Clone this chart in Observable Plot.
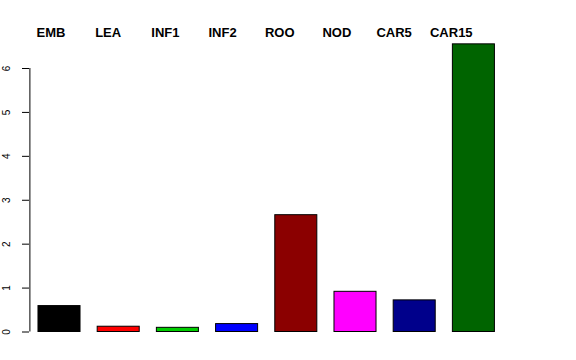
<!DOCTYPE html>
<html>
<head>
<meta charset="utf-8">
<script src="https://cdn.jsdelivr.net/npm/d3@7"></script>
<script src="https://cdn.jsdelivr.net/npm/@observablehq/plot@0.6"></script>
<style>
  html, body { margin: 0; padding: 0; background: #fff; }
  #chart svg { display: block; }
</style>
</head>
<body>
<div id="chart"></div>
<script>
const categories = ["EMB", "LEA", "INF1", "INF2", "ROO", "NOD", "CAR5", "CAR15"];
const values = [0.59, 0.12, 0.095, 0.18, 2.66, 0.915, 0.72, 6.55];
const colors = ["black", "red", "#00CD00", "blue", "#8B0000", "magenta", "#00008B", "#006400"];
const yTicks = [0, 1, 2, 3, 4, 5, 6];

const data = categories.map((c, i) => ({category: c, value: values[i], color: colors[i], i}));
const font = "'Liberation Sans', Arial, Helvetica, sans-serif";

const chart = Plot.plot({
  width: 576,
  height: 360,
  marginLeft: 29,
  marginRight: 73,
  marginTop: 68,
  marginBottom: 28.5,
  style: {background: "white", fontFamily: font},
  x: {type: "linear", domain: [0, 8], range: [29.4, 503], axis: null},
  y: {domain: [0, 6], range: [331.5, 68], axis: null},
  marks: [
    Plot.rect(data, {
      x1: d => d.i + 0.145,
      x2: d => d.i + 0.855,
      y1: 0,
      y2: "value",
      fill: "color",
      stroke: "black",
      strokeWidth: 1
    }),
    Plot.ruleX([0], {y1: 0, y2: 6, stroke: "black", strokeWidth: 1}),
    Plot.axisY({ticks: yTicks, tickSize: 7, tickFormat: () => "", label: null, stroke: "black", strokeOpacity: 1}),
    Plot.text(yTicks, {
      y: d => d,
      text: d => String(d),
      rotate: -90,
      frameAnchor: "left",
      textAnchor: "middle",
      lineAnchor: "middle",
      dx: -23,
      fontSize: 10,
      fill: "black",
      fontFamily: font
    }),
    Plot.text(data, {
      x: d => 0.356 + 0.966 * d.i,
      text: "category",
      frameAnchor: "top",
      lineAnchor: "middle",
      dy: -35.5,
      fontSize: 13,
      fontWeight: "bold",
      fill: "black",
      fontFamily: font
    })
  ]
});
document.getElementById("chart").appendChild(chart);
</script>
</body>
</html>
